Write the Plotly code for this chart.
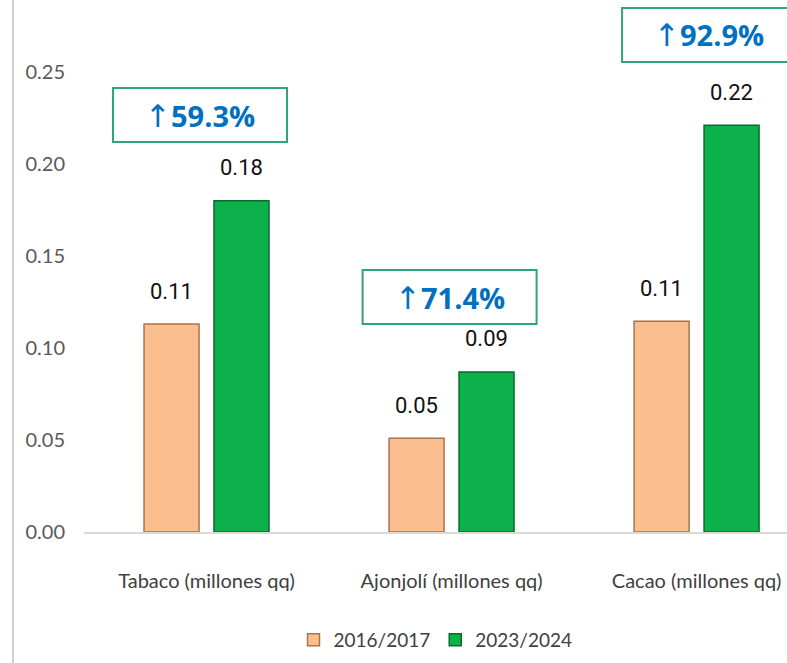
import plotly.graph_objects as go

# datos
categorias = ["Tabaco (millones qq)", "Ajonjolí (millones qq)", "Cacao (millones qq)"]
serie_2016 = [0.113, 0.051, 0.1145]
serie_2023 = [0.180, 0.087, 0.221]
crecimiento = [59.3, 71.4, 92.9]
anios = ["2016/2017", "2023/2024"]

LABEL_FONT = "Roboto, Liberation Sans"
CAT_FONT = "Lato, Open Sans"

fig = go.Figure()
fig.add_trace(go.Bar(
    x=categorias, y=serie_2016, name=anios[0],
    marker=dict(color="#FBBE8F", line=dict(color="#A8734F", width=1.5)),
))
fig.add_trace(go.Bar(
    x=categorias, y=serie_2023, name=anios[1],
    marker=dict(color="#0DB14B", line=dict(color="#076B2C", width=1.5)),
))

# etiquetas de datos sobre cada barra
off = 0.1429
for i in range(len(categorias)):
    for dx, v in [(-off, serie_2016[i]), (off, serie_2023[i])]:
        fig.add_annotation(
            x=i + dx, y=v, text=f"{v:.2f}", showarrow=False,
            yanchor="middle", yshift=33,
            font=dict(family=LABEL_FONT, size=22, color="#111111"),
        )

# cajas de crecimiento (la ultima queda cortada por el borde derecho)
cajas = [(-0.0265, 0.2266, 87), (0.992, 0.1277, 87), (2.051, 0.2701, 200)]
for (cx, cy, der), p in zip(cajas, crecimiento):
    fig.add_shape(
        type="rect", xref="x", yref="y",
        xsizemode="pixel", ysizemode="pixel", xanchor=cx, yanchor=cy,
        x0=-87, x1=der, y0=-27, y1=27,
        line=dict(color="#2FA37F", width=2), fillcolor="white", layer="above",
    )
    fig.add_annotation(
        x=cx, y=cy,
        text=f"<span style='font-family:DejaVu Sans;font-weight:normal;font-size:31px'>↑</span>{p:.1f}%",
        showarrow=False,
        font=dict(family="Open Sans", size=29, color="#0070C0", weight="bold"),
    )

# borde izquierdo del grafico
fig.add_shape(type="line", xref="paper", yref="paper",
              x0=-0.101, x1=-0.101, y0=-0.25, y1=1.0,
              line=dict(color="#D0D0D0", width=2))

fig.update_layout(
    width=787, height=663,
    margin=dict(l=84, r=0, t=0, b=131),
    plot_bgcolor="white", paper_bgcolor="white",
    barmode="group", bargap=0.429, bargroupgap=0.214,
    showlegend=True,
    legend=dict(orientation="h", x=0.5, xanchor="center", y=-0.203, yanchor="middle",
                font=dict(family=CAT_FONT, size=19, color="#404040"),
                itemwidth=30),
)
fig.update_xaxes(
    range=[-0.5, 2.369], showline=True, linecolor="#D9D9D9", linewidth=1.5,
    tickfont=dict(family=CAT_FONT, size=20, color="#404040"),
    ticklabelstandoff=30, showgrid=False,
)
fig.update_yaxes(
    range=[0, 0.2891], tickvals=[0, 0.05, 0.10, 0.15, 0.20, 0.25], tickformat=".2f",
    showgrid=False, zeroline=False, showline=False,
    tickfont=dict(family=CAT_FONT, size=20, color="#595959"),
    ticklabelstandoff=18,
)

fig.write_html("out.html", config={"displayModeBar": False},
               post_script="document.body.style.margin='0';")
